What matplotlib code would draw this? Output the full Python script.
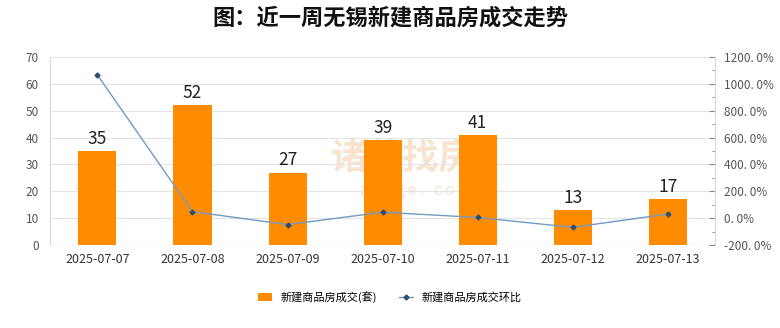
import matplotlib
matplotlib.use("Agg")
import matplotlib.pyplot as plt
from matplotlib.ticker import FuncFormatter, MultipleLocator

plt.rcParams['font.family'] = ['Noto Sans CJK SC', 'DejaVu Sans']

dates = ["2025-07-07", "2025-07-08", "2025-07-09", "2025-07-10", "2025-07-11", "2025-07-12", "2025-07-13"]
deals = [35, 52, 27, 39, 41, 13, 17]
ratio = [1066.7, 48.6, -48.1, 44.4, 5.1, -68.3, 30.8]
bar_name = "新建商品房成交(套)"
line_name = "新建商品房成交环比"
title = "图：近一周无锡新建商品房成交走势"

fig = plt.figure(figsize=(7.8, 3.28), dpi=100)
ax = fig.add_axes([0.064, 0.253, 0.853, 0.573])
x = list(range(len(dates)))

# watermark (behind bars)
ax.text(0.53, 0.46, "诸葛找房", transform=ax.transAxes, fontsize=26, color="#f8e3cf",
        ha="center", va="center", fontweight="bold", zorder=1)
ax.text(0.55, 0.29, "z h u g e .   c o m", transform=ax.transAxes, fontsize=11, color="#f8e3cf",
        ha="center", va="center", zorder=1)

bars = ax.bar(x, deals, width=0.4, color="#FF8C00", zorder=3, label=bar_name)
for xi, v in zip(x, deals):
    ax.text(xi, v + 1.2, str(v), ha="center", va="bottom", fontsize=12.5, color="#222222", zorder=5)

ax.set_ylim(0, 70)
ax.set_xlim(-0.5, len(dates) - 0.5)
ax.yaxis.set_major_locator(MultipleLocator(10))
ax.grid(axis="y", color="#e4e4e4", linewidth=0.8, zorder=0)
ax.set_xticks(x)
ax.set_xticklabels(dates, fontsize=9, color="#333333")
ax.tick_params(axis="y", length=0, labelsize=8.5, labelcolor="#555555", pad=8)
ax.tick_params(axis="x", length=0, pad=6)
for s in ["top", "right", "bottom"]:
    ax.spines[s].set_visible(False)
ax.spines["left"].set_color("#d9d9d9")
ax.axhline(0, color="#d9d9d9", linewidth=0.8, zorder=2)

ax2 = ax.twinx()
line, = ax2.plot(x, ratio, color="#6f9bc4", linewidth=1.0, marker="D", markersize=2.5,
                 markerfacecolor="#2f4f6f", markeredgecolor="#2f4f6f", zorder=4, label=line_name)
ax2.set_ylim(-200, 1200)
ax2.yaxis.set_major_locator(MultipleLocator(200))
ax2.yaxis.set_minor_locator(MultipleLocator(100))
ax2.yaxis.set_major_formatter(FuncFormatter(lambda v, p: f"{v:.1f}%".replace(".", ". ")))
ax2.tick_params(axis="y", which="major", direction="in", length=4, color="#888888",
                labelsize=8.5, labelcolor="#555555", pad=6)
ax2.tick_params(axis="y", which="minor", direction="in", length=2, color="#888888")
for s in ["top", "left", "bottom"]:
    ax2.spines[s].set_visible(False)
ax2.spines["right"].set_color("#d9d9d9")

fig.suptitle(title, fontsize=16, fontweight="bold", x=0.5, y=0.98, color="#111111")

fig.legend(handles=[bars, line], labels=[bar_name, line_name], loc="center", bbox_to_anchor=(0.5, 0.095),
           ncol=2, frameon=False, fontsize=8, handlelength=1.2, columnspacing=2.0, markerscale=1)

fig.savefig("out.png", dpi=100)
